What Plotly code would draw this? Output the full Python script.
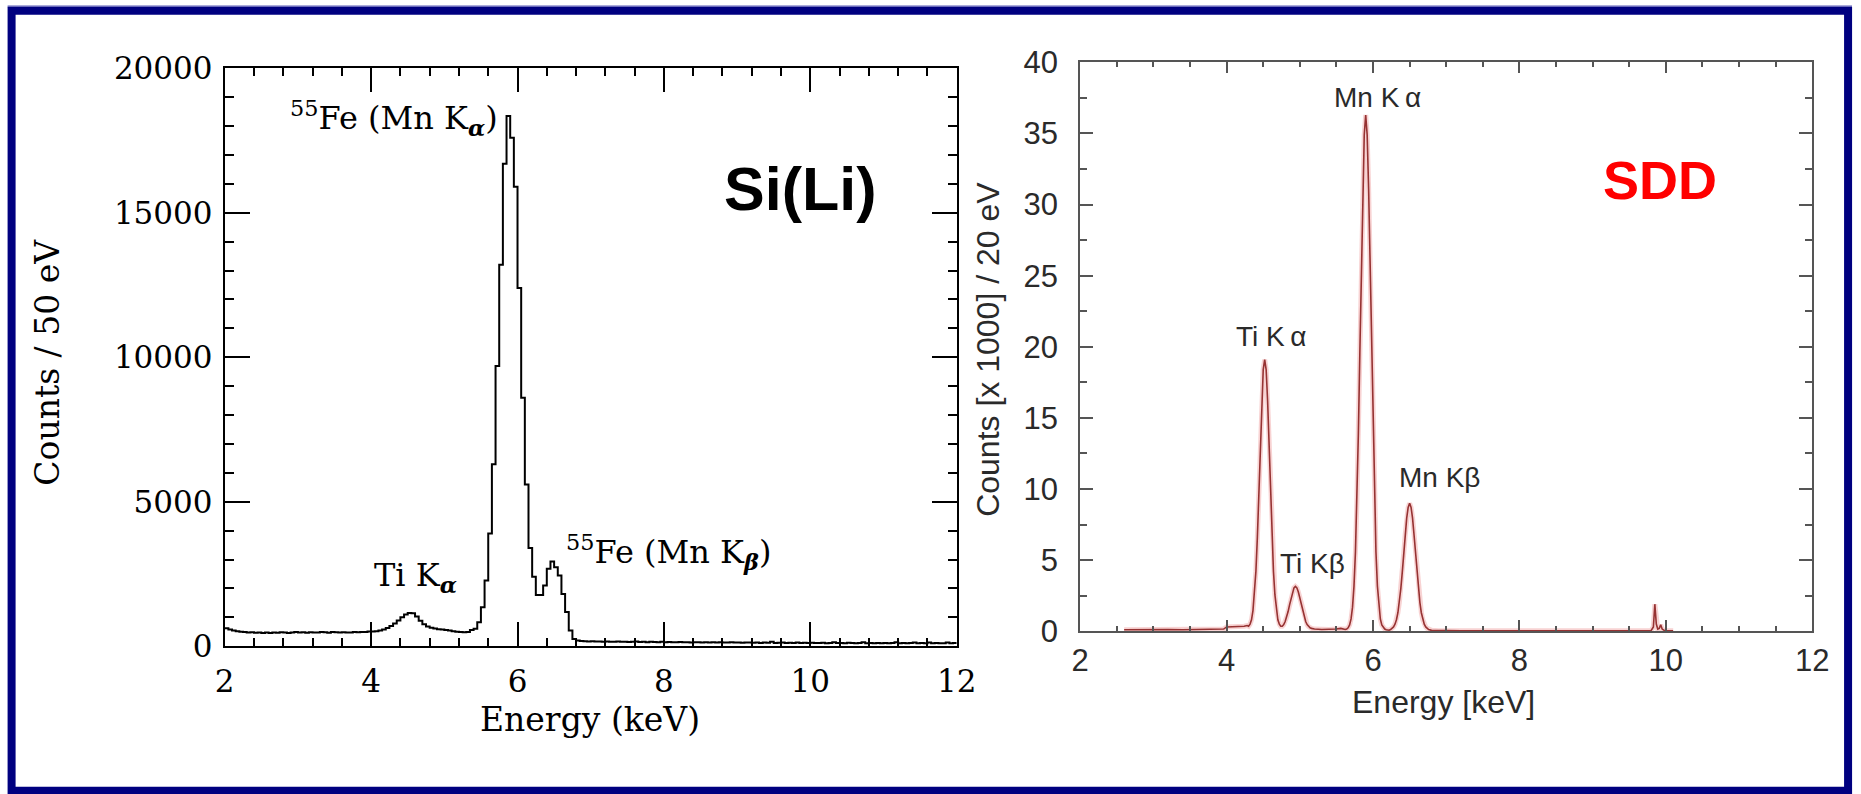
import plotly.graph_objects as go

# Target picture coordinates (pixels of the 1861x794 reference) are mapped to the
# figure through the empirically measured page->picture transform of the viewer.
PAD = 8            # default body margin of the page
SX, BX = 0.988, 0.5
SY, BY = 0.956, 8.0
W, H = 1872, 814

# ---------------- Si(Li) spectrum (left), 50 eV bins from 2.00 keV ----------------
sili_bin_start_keV = 2.0
sili_bin_width_keV = 0.05
sili_counts = [
    620, 580, 540, 520, 500, 490, 470, 480, 465, 470, 460, 475, 455, 470, 465, 480, 470, 460, 475, 490,   # 2.00-2.95
    470, 480, 465, 485, 475, 470, 490, 480, 465, 495, 480, 470, 485, 475, 470, 490, 480, 495, 490, 505,   # 3.00-3.95
    510, 520, 545, 580, 630, 700, 790, 890, 1000, 1100, 1150, 1140, 1030, 880, 760, 680, 640, 610, 590, 575,  # 4.00-4.95
    560, 540, 520, 500, 490, 480, 490, 560, 600, 830, 1350, 2270, 3900, 6300, 9700, 13200, 16700, 18350, 17600, 15900,  # 5.00-5.95
    12400, 8600, 5600, 3400, 2400, 1770, 1770, 2100, 2680, 2930, 2730, 2450, 1810, 1180, 540, 250, 200, 180, 175, 165,  # 6.00-6.95
    170, 160, 165, 155, 160, 150, 155, 160, 150, 155, 145, 150, 160, 145, 150, 140, 150, 145, 140, 150,   # 7.00-7.95
    140, 145, 135, 140, 145, 135, 140, 130, 140, 135, 130, 140, 130, 135, 125, 135, 130, 125, 135, 125,   # 8.00-8.95
    130, 120, 130, 125, 120, 130, 115, 125, 120, 150, 115, 120, 125, 115, 120, 110, 125, 115, 120, 110,   # 9.00-9.95
    120, 115, 110, 120, 105, 115, 140, 110, 115, 105, 120, 110, 105, 115, 140, 105, 110, 100, 115, 105,   # 10.00-10.95
    110, 100, 115, 135, 105, 110, 100, 115, 130, 100, 110, 105, 130, 100, 110, 105, 100, 130, 105, 110,   # 11.00-11.95
]

# ---------------- SDD spectrum (right), counts x1000 per 20 eV ----------------
sdd_energy_keV = [
    2.60, 2.80, 3.00, 3.20, 3.40, 3.60, 3.80, 3.96, 4.00, 4.04, 4.10, 4.16, 4.20, 4.24, 4.28,
    4.30, 4.32, 4.34, 4.36, 4.38, 4.40, 4.42, 4.44, 4.46, 4.48, 4.50, 4.52, 4.54, 4.56, 4.58,
    4.60, 4.62, 4.64, 4.66, 4.68, 4.70, 4.72, 4.74, 4.76, 4.78, 4.80, 4.82, 4.84, 4.86, 4.88,
    4.90, 4.92, 4.94, 4.96, 4.98, 5.00, 5.02, 5.04, 5.06, 5.08, 5.10, 5.12, 5.14, 5.16, 5.20,
    5.30, 5.40, 5.50, 5.56, 5.60, 5.62, 5.64, 5.66, 5.68, 5.70, 5.72, 5.74, 5.76, 5.78, 5.80,
    5.82, 5.84, 5.86, 5.88, 5.90, 5.92, 5.94, 5.96, 5.98, 6.00, 6.02, 6.04, 6.06, 6.08, 6.10,
    6.12, 6.14, 6.16, 6.18, 6.20, 6.22, 6.24, 6.26, 6.28, 6.30, 6.32, 6.34, 6.36, 6.38, 6.40,
    6.42, 6.44, 6.46, 6.48, 6.50, 6.52, 6.54, 6.56, 6.58, 6.60, 6.62, 6.64, 6.66, 6.68, 6.70,
    6.72, 6.74, 6.76, 6.80, 6.90, 7.20, 7.60, 8.00, 8.40, 8.80, 9.20, 9.60, 9.80, 9.83, 9.85,
    9.87, 9.89, 9.91, 9.93, 9.95, 9.98, 10.10,
]
sdd_counts_k = [
    0.10, 0.12, 0.10, 0.12, 0.10, 0.12, 0.14, 0.15, 0.30, 0.30, 0.30, 0.30, 0.32, 0.35, 0.40,
    0.35, 0.50, 0.80, 1.45, 2.55, 4.20, 6.60, 9.70, 13.1, 16.2, 18.4, 19.1, 18.4, 16.2, 13.1,
    9.70, 6.60, 4.20, 2.55, 1.45, 0.80, 0.50, 0.35, 0.35, 0.46, 0.68, 0.98, 1.38, 1.85, 2.33,
    2.75, 3.05, 3.15, 3.05, 2.75, 2.33, 1.85, 1.38, 0.98, 0.68, 0.46, 0.32, 0.24, 0.20, 0.15,
    0.12, 0.12, 0.15, 0.20, 0.15, 0.12, 0.15, 0.24, 0.44, 0.86, 1.69, 3.17, 5.57, 9.10, 13.9,
    19.6, 25.7, 31.1, 34.9, 36.3, 34.9, 31.1, 25.7, 19.6, 13.9, 9.10, 5.57, 3.17, 1.69, 0.86,
    0.44, 0.24, 0.15, 0.10, 0.06, 0.07, 0.12, 0.20, 0.30, 0.49, 0.81, 1.30, 2.03, 3.00, 4.17,
    5.50, 6.80, 7.95, 8.70, 9.00, 8.70, 7.95, 6.80, 5.50, 4.17, 3.00, 2.03, 1.30, 0.81, 0.49,
    0.30, 0.20, 0.12, 0.06, 0.04, 0.03, 0.03, 0.03, 0.03, 0.03, 0.03, 0.03, 0.05, 0.30, 1.90,
    0.50, 0.15, 0.20, 0.45, 0.15, 0.05, 0.03,
]

x_ticks = [2, 4, 6, 8, 10, 12]
left_y_ticks = [0, 5000, 10000, 15000, 20000]
right_y_ticks = [0, 5, 10, 15, 20, 25, 30, 35, 40]

# histogram outline
edges = [round(sili_bin_start_keV + i * sili_bin_width_keV, 2) for i in range(len(sili_counts) + 1)]
hx = edges
hy = sili_counts + [sili_counts[-1]]


def px(sx):
    # picture x (pixels) -> paper fraction
    return ((sx - BX) / SX - PAD) / W


def py(sy):
    # picture y (pixels, from top) -> paper fraction
    return 1 - ((sy - BY) / SY - PAD) / H


fig = go.Figure()
fig.add_trace(go.Scatter(x=hx, y=hy, mode="lines", line=dict(color="black", width=2, shape="hv"),
                         xaxis="x", yaxis="y", showlegend=False, hoverinfo="skip"))
# soft halo (jpeg-like) + line for SDD
fig.add_trace(go.Scatter(x=sdd_energy_keV, y=sdd_counts_k, mode="lines",
                         line=dict(color="rgba(235,130,130,0.35)", width=5),
                         xaxis="x2", yaxis="y2", showlegend=False, hoverinfo="skip"))
fig.add_trace(go.Scatter(x=sdd_energy_keV, y=sdd_counts_k, mode="lines",
                         line=dict(color="#963232", width=1.6),
                         xaxis="x2", yaxis="y2", showlegend=False))

serif = "DejaVu Serif"
sans = "Liberation Sans"

left_axis_common = dict(showgrid=False, zeroline=False, showline=True, linecolor="black", linewidth=2,
                        mirror="ticks", ticks="inside", tickcolor="black", tickwidth=2)
right_axis_common = dict(showgrid=False, zeroline=False, showline=True, linecolor="#555555", linewidth=2,
                         mirror="ticks", ticks="inside", tickcolor="#555555", tickwidth=2)

fig.update_layout(
    width=W, height=H, margin=dict(l=0, r=0, t=0, b=0),
    paper_bgcolor="white", plot_bgcolor="white",
    xaxis=dict(domain=[px(224), px(959)], range=[2, 12], tickvals=x_ticks, ticklen=24,
               tickfont=dict(family=serif, size=31, color="black"), ticklabelstandoff=7,
               minor=dict(dtick=0.4, tick0=2, ticklen=8, tickwidth=2, ticks="inside", tickcolor="black"),
               anchor="y", **left_axis_common),
    yaxis=dict(domain=[py(644), py(66)], range=[0, 20000], tickvals=left_y_ticks, tickformat="d", ticklen=25,
               tickfont=dict(family=serif, size=31, color="black"), ticklabelstandoff=4,
               minor=dict(dtick=1000, tick0=0, ticklen=9, tickwidth=2, ticks="inside", tickcolor="black"),
               anchor="x", **left_axis_common),
    xaxis2=dict(domain=[px(1083), px(1818)], range=[2, 12], tickvals=x_ticks, ticklen=11,
                tickfont=dict(family=sans, size=31, color="#2a2a2a"), ticklabelstandoff=1,
                minor=dict(dtick=0.5, tick0=2, ticklen=5, tickwidth=2, ticks="inside", tickcolor="#555555"),
                anchor="y2", **right_axis_common),
    yaxis2=dict(domain=[py(629), py(60)], range=[0, 40], tickvals=right_y_ticks, ticklen=13,
                tickfont=dict(family=sans, size=31, color="#2a2a2a"), ticklabelstandoff=14,
                minor=dict(dtick=2.5, tick0=0, ticklen=7, tickwidth=2, ticks="inside", tickcolor="#555555"),
                anchor="x2", **right_axis_common),
)


def ann(text, x, y, size, family, color="black", xanchor="center", yanchor="middle", angle=0):
    fig.add_annotation(text=text, x=px(x), y=py(y), xref="paper", yref="paper", showarrow=False,
                       xanchor=xanchor, yanchor=yanchor, textangle=angle,
                       font=dict(family=family, size=size, color=color))


# left panel texts
ann("Counts / 50 eV", 46, 360, 33, serif, angle=-90)
ann("Energy (keV)", 591, 717, 33, serif)
ann("<sup>55</sup>Fe (Mn K<sub><b><i>α</i></b></sub>)", 288, 116, 32, serif, xanchor="left")
ann("<sup>55</sup>Fe (Mn K<sub><b><i>β</i></b></sub>)", 565, 550, 32, serif, xanchor="left")
ann("Ti K<sub><b><i>α</i></b></sub>", 416, 575, 32, serif)
ann("<b>Si(Li)</b>", 802, 187, 61, sans)

# right panel texts
ann("Counts [x 1000] / 20 eV", 991, 347, 32, sans, color="#2a2a2a", angle=-90)
ann("Energy [keV]", 1448, 700, 32, sans, color="#2a2a2a")
ann("Mn K\u2009α", 1382, 95, 28, sans, color="#2a2a2a")
ann("Ti K\u2009α", 1275, 334, 28, sans, color="#2a2a2a")
ann("Ti Kβ", 1316, 561, 28, sans, color="#2a2a2a")
ann("Mn Kβ", 1444, 475, 28, sans, color="#2a2a2a")
ann("<b>SDD</b>", 1665, 178, 54, sans, color="#ff0000")

# slide frame
fig.add_shape(type="line", xref="paper", yref="paper", x0=px(6), x1=1, y0=py(4), y1=py(4),
              line=dict(color="#8f8fcf", width=2), layer="above")
fig.add_shape(type="rect", xref="paper", yref="paper", x0=px(10), x1=px(1854), y0=py(788.5), y1=py(8.5),
              line=dict(color="#000080", width=8), fillcolor="rgba(0,0,0,0)", layer="above")

fig.write_html("out.html")
